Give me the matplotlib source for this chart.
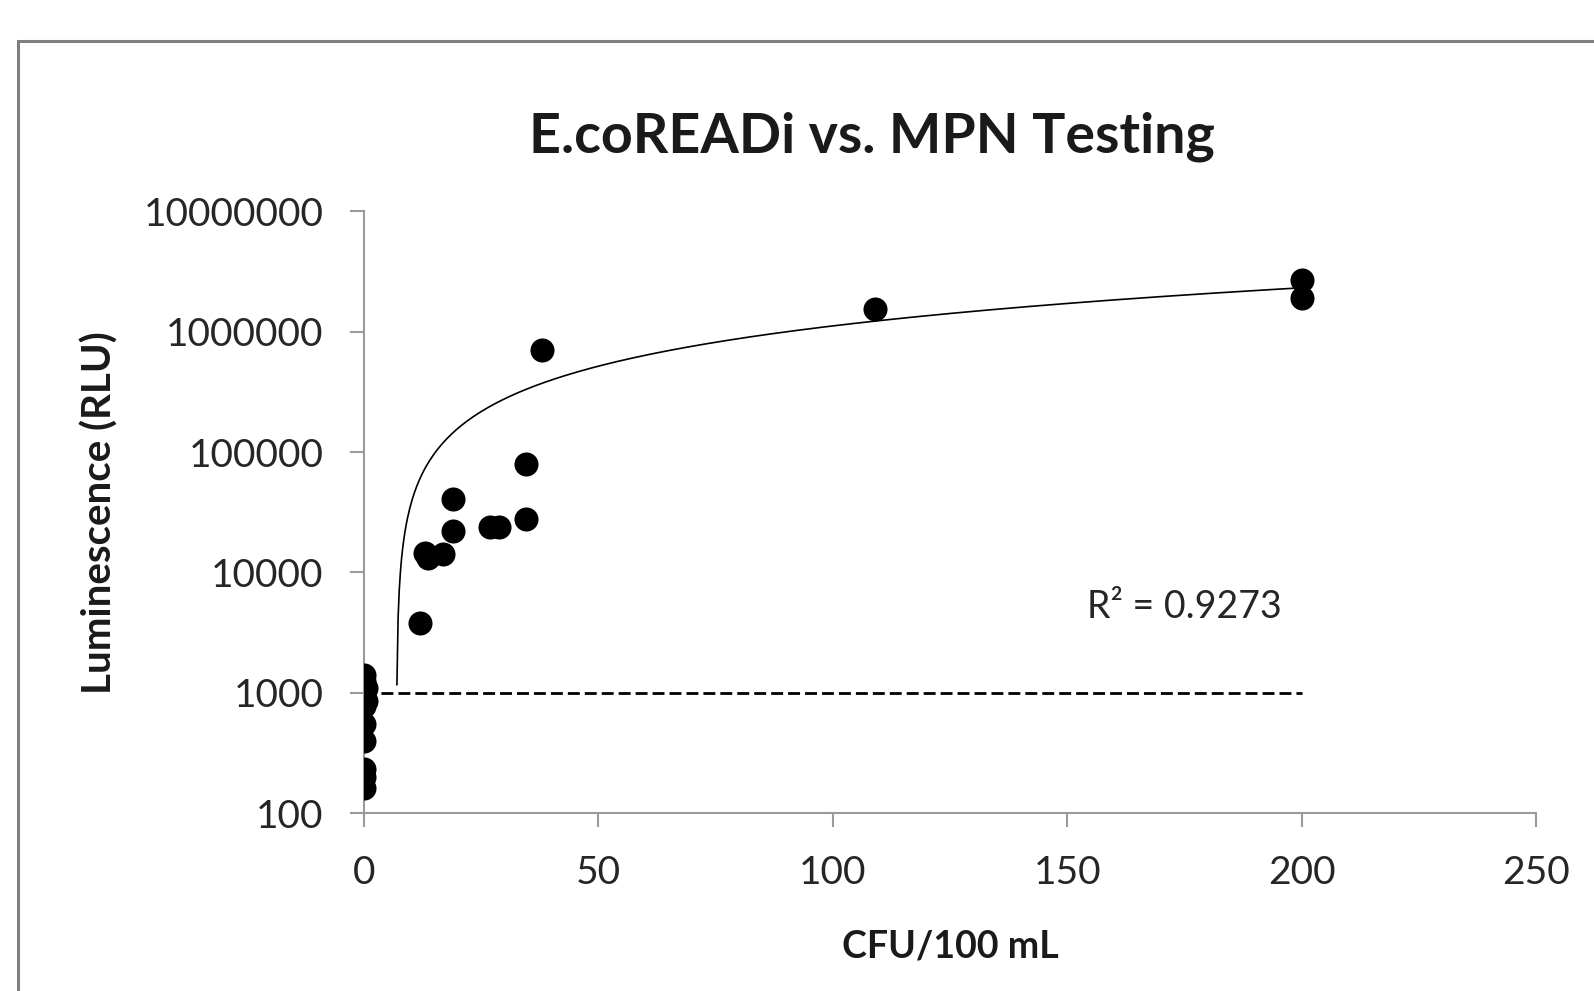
import matplotlib.pyplot as plt
import matplotlib.patches as patches
import numpy as np

# CFU/100 mL vs luminescence readings
cfu = [0, 0, 0.5, 0, 0.5, 0, 0, 0, 0, 0, 0,
       12, 13, 13.7, 16.9, 18.9, 18.9, 26.9, 28.7, 34.5, 34.5, 38, 109, 200, 200]
rlu = [1400, 1250, 1100, 950, 850, 780, 550, 400, 230, 200, 160,
       3800, 14400, 13100, 14300, 41000, 22000, 23800, 23800, 28000, 79000, 700000, 1560000, 2700000, 1900000]

detection_limit = 1000
r2_label = 'R² = 0.9273'

plt.rcParams['font.family'] = ['Lato', 'DejaVu Sans']

fig = plt.figure(figsize=(15.94, 9.91), dpi=100)
ax = fig.add_axes([0.2284, 0.1796, 0.7352, 0.607])

# outer chart frame (cut off at right and bottom)
fig.patches.append(patches.Rectangle((0.0115, -0.05), 1.1, 0.959 + 0.05, transform=fig.transFigure,
                                     fill=False, edgecolor='#7f7f7f', lw=2.2))

ax.scatter(cfu, rlu, s=300, c='black', zorder=3, linewidths=0)

# linear trendline, shown only where positive on the log axis
m, b = np.polyfit(cfu, rlu, 1)
xs = np.linspace(0, max(cfu), 800)
ys = m * xs + b
ok = ys > 0
ax.plot(xs[ok], ys[ok], c='black', lw=1.2, zorder=2)

ax.plot([0, 200], [detection_limit, detection_limit], c='black', lw=2, ls=(0, (4.3, 1.8)), zorder=2)

ax.text(175, 5200, r2_label, fontsize=27, ha='center', va='center', color='#262626')

ax.set_yscale('log')
ax.set_ylim(100, 1e7)
ax.set_xlim(0, 250)
ax.set_xticks([0, 50, 100, 150, 200, 250])
ax.set_yticks([100, 1000, 10000, 100000, 1000000, 10000000])
ax.set_yticklabels(['100', '1000', '10000', '100000', '1000000', '10000000'])
ax.minorticks_off()

for s in ['top', 'right']:
    ax.spines[s].set_visible(False)
for s in ['left', 'bottom']:
    ax.spines[s].set_color('#9a9a9a')
    ax.spines[s].set_linewidth(1.5)
ax.spines['left'].set_position(('data', 0))
ax.tick_params(axis='both', color='#9a9a9a', width=1.5, length=10, labelsize=28, labelcolor='#262626')
ax.tick_params(axis='y', pad=19)
ax.tick_params(axis='x', pad=20)

fig.text(0.547, 0.862, 'E.coREADi vs. MPN Testing', fontsize=40, fontweight='bold',
         ha='center', va='center', color='#1a1a1a')
ax.set_xlabel('CFU/100 mL', fontsize=27, fontweight='bold', labelpad=28, color='#1a1a1a')
ax.set_ylabel('Luminescence (RLU)', fontsize=29, fontweight='bold', labelpad=18, color='#1a1a1a')

fig.savefig('out.png', dpi=100)
